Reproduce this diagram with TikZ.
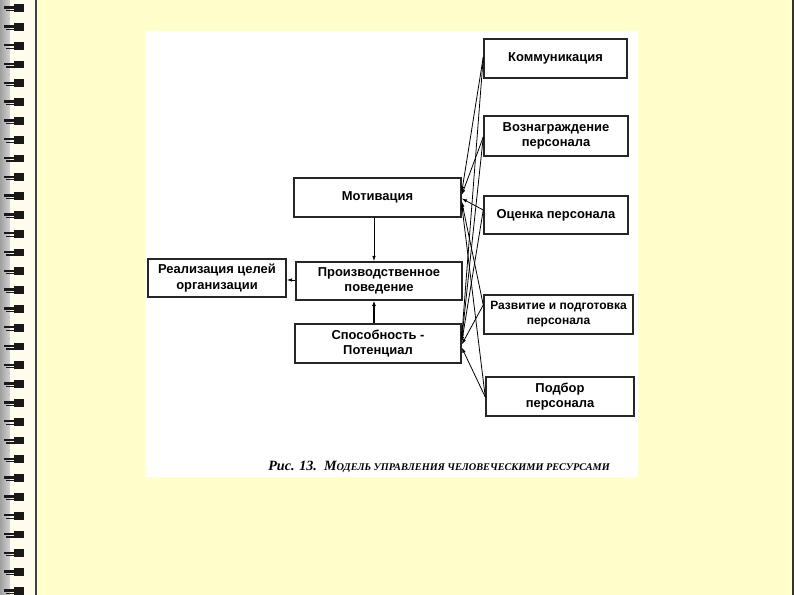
\documentclass[tikz,border=0pt]{standalone}
\usepackage{fontspec}
\setmainfont{Liberation Sans}
\newfontfamily\capfont{Liberation Serif}
\usetikzlibrary{arrows.meta,calc}
\definecolor{slidebg}{HTML}{FFFFCC}
\definecolor{creamstrip}{HTML}{FFFCEE}
\begin{document}
\begin{tikzpicture}[x=0.75pt,y=-0.75pt,
  box/.style={draw=black!85, line width=1.1pt, fill=white, align=center,
    font=\bfseries\fontsize{9.7}{11.4}\selectfont, inner sep=0pt},
  conn/.style={line width=0.6pt, -{Latex[length=4pt,width=2.6pt]}},
  ring/.style={fill=black!90}]
\useasboundingbox (0,0) rectangle (794,595);
% slide background
\fill[slidebg] (0,0) rectangle (794,595);
\shade[left color=gray!75, right color=gray!35] (0,0) rectangle (10,595);
\fill[creamstrip] (10,0) rectangle (35.5,595);
\draw[line width=1.2pt, black!75] (36,0) -- (36,595);
\draw[line width=1.5pt, black!80] (793,0) -- (793,595);
\foreach \i in {0,...,31}{
  \pgfmathsetmacro\yy{8+18.8*\i}
  \fill[ring] (4,\yy-1.5) rectangle (23,\yy+0.8);
  \fill[ring] (14,\yy-3.8) rectangle (23.5,\yy+4);
  \fill[ring] (6,\yy+2) rectangle (16,\yy+3.2);
}
% scanned figure area
\fill[white] (145,31) rectangle (638,477);
% boxes
\node[box, minimum width=107.25pt, minimum height=29.25pt] (kom) at (555.5,58.5) {Коммуникация};
\node[box, minimum width=108pt, minimum height=30pt] (voz) at (556,136) {Вознаграждение\\персонала};
\node[box, minimum width=108pt, minimum height=28.5pt] (ocen) at (556,215) {Оценка персонала};
\node[box, minimum width=111.75pt, minimum height=29.25pt, font=\bfseries\fontsize{9}{11.4}\selectfont] (razv) at (558.5,314.5) {Развитие и подготовка\\персонала};
\node[box, minimum width=111pt, minimum height=29.25pt] (podb) at (560,396.5) {Подбор\\персонала};
\node[box, minimum width=125.25pt, minimum height=29.25pt] (motiv) at (377.5,197.5) {Мотивация};
\node[box, minimum width=124.5pt, minimum height=28.5pt] (proizv) at (379,281) {Производственное\\поведение};
\node[box, minimum width=124.5pt, minimum height=29.25pt] (spos) at (378,343.5) {Способность -\\Потенциал};
\node[box, minimum width=103.5pt, minimum height=28.5pt] (real) at (217,278) {Реализация целей\\организации};
% main arrows
\coordinate (ax) at (374,0);
\draw[conn] (motiv.south -| ax) -- (proizv.north -| ax);
\draw[line width=1.4pt, -{Latex[length=4pt,width=3pt]}] (spos.north -| ax) -- (proizv.south -| ax);
\draw[conn] (proizv.west |- 0,280) -- (real.east |- 0,280);
% source points on the right boxes
\coordinate (s1) at ($(kom.west)+(0,-1.5)$);
\coordinate (s2) at ($(voz.west)+(0,1)$);
\coordinate (s3) at ($(ocen.west)+(0,-5)$);
\coordinate (s4) at ($(razv.west)+(0,-9.5)$);
\coordinate (s5) at ($(podb.west)+(0,0.5)$);
% converging arrows
\draw[conn] (s1) -- ($(motiv.east)+(0,-5.5)$);
\draw[conn] (s2) -- ($(motiv.east)+(0,-2.5)$);
\draw[conn] (s3) -- ($(motiv.east)+(0,1)$);
\draw[conn] (s4) -- ($(motiv.east)+(0,4)$);
\draw[conn] (s5) -- ($(motiv.east)+(0,7)$);
\draw[conn] (s1) -- ($(spos.east)+(0,-6.5)$);
\draw[conn] (s2) -- ($(spos.east)+(0,-4)$);
\draw[conn] (s3) -- ($(spos.east)+(0,-1.5)$);
\draw[conn] (s4) -- ($(spos.east)+(0,1)$);
\draw[conn] (s5) -- ($(spos.east)+(0,4)$);
% caption
\node[anchor=west, inner sep=0pt, font=\capfont\itshape\bfseries\fontsize{10.6}{12}\selectfont] (cap) at (268,467)
  {Рис. 13.\ \ М{\fontsize{7.7}{9}\selectfont ОДЕЛЬ УПРАВЛЕНИЯ ЧЕЛОВЕЧЕСКИМИ РЕСУРСАМИ}};
\end{tikzpicture}
\end{document}
